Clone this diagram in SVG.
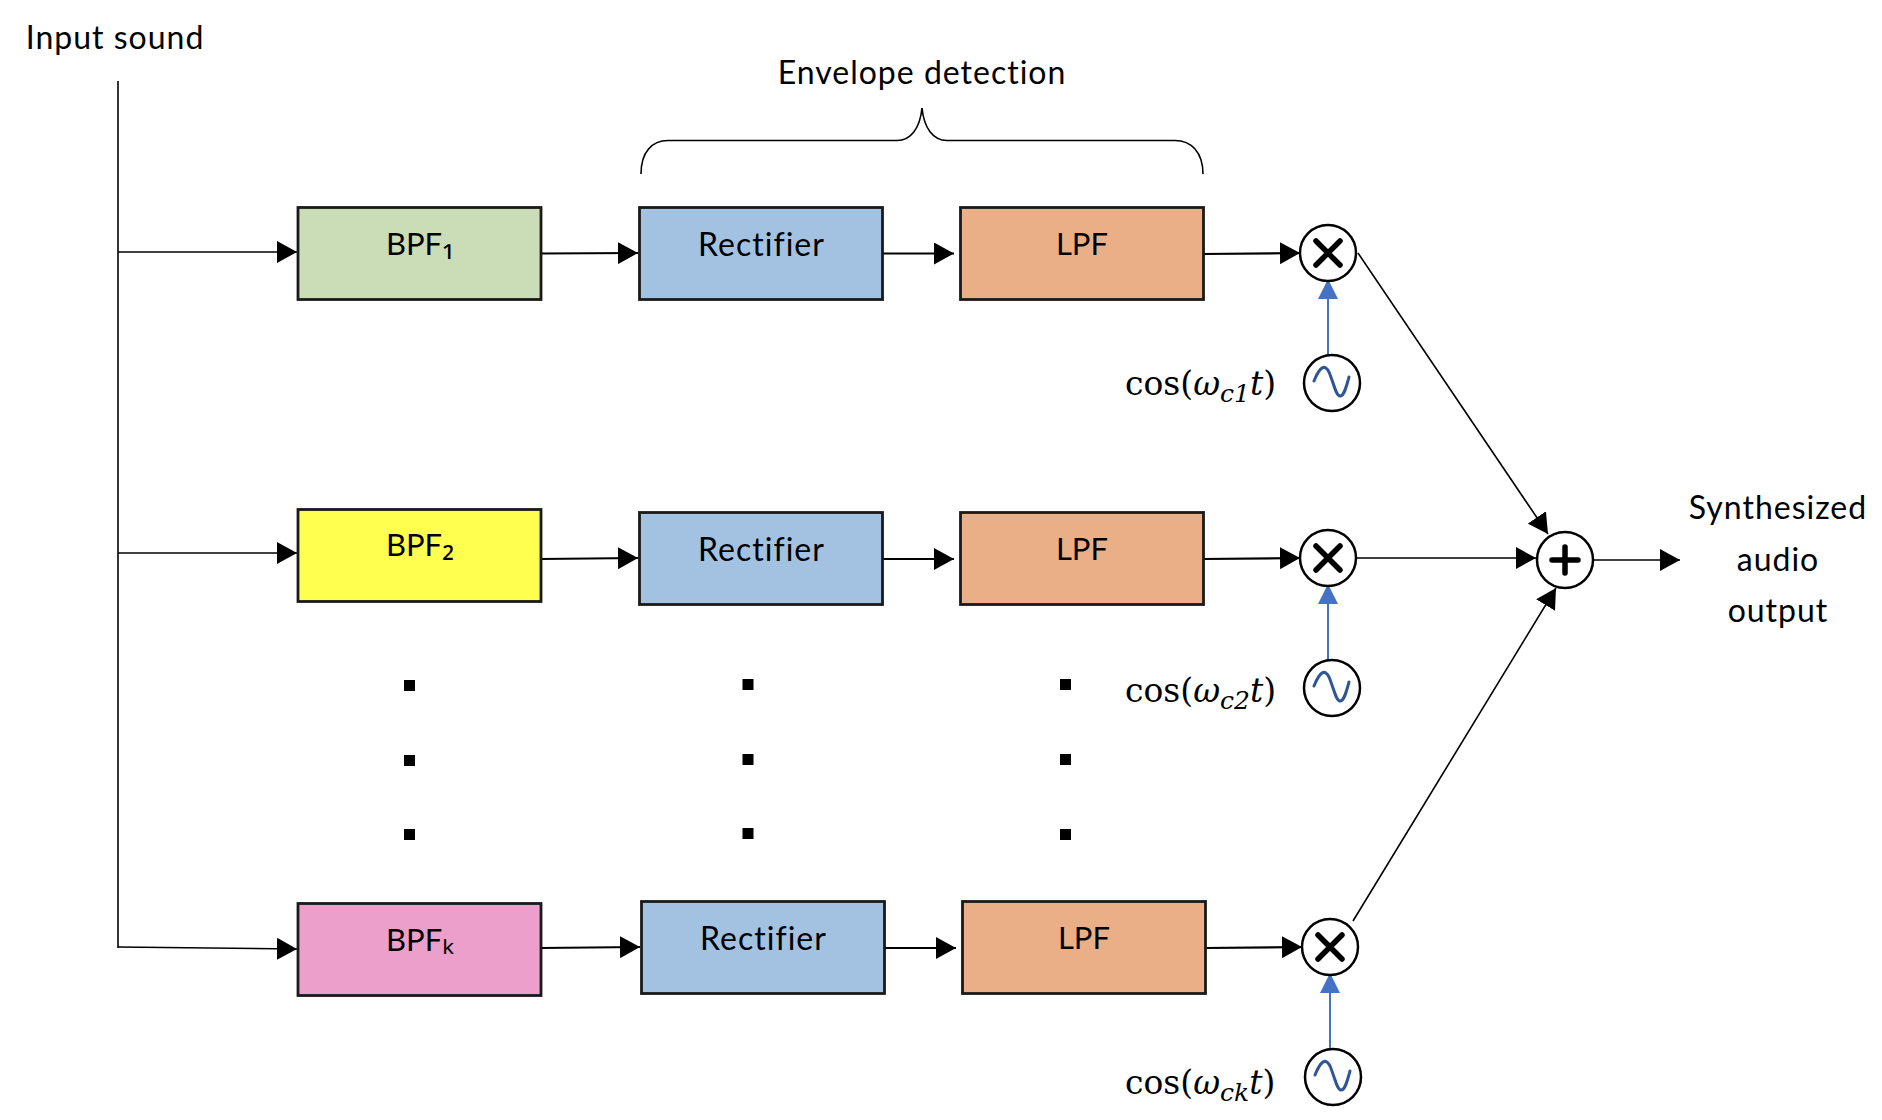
<svg xmlns="http://www.w3.org/2000/svg" width="1882" height="1120" viewBox="0 0 1882 1120">
<style>
text{font-family:"Lato","Noto Sans",sans-serif;font-size:32px;letter-spacing:1px;fill:#000;text-anchor:middle}
text.cap{font-size:31px;letter-spacing:0}
.sub{font-family:"Noto Sans",sans-serif;font-size:34px}
text.math{font-family:"DejaVu Serif","Liberation Serif",serif;font-size:33px;letter-spacing:0;text-anchor:start}
.math .v{font-style:italic}
.math .s{font-style:italic;font-size:25px}
.box{stroke:#1a1a1a;stroke-width:2.8}
.g{fill:#cbddb6}.y{fill:#ffff50}.p{fill:#ec9fcb}.b{fill:#a3c2e2}.o{fill:#ebaf88}
.c{fill:#fff;stroke:#000;stroke-width:2.5}
.sym{fill:none;stroke:#000;stroke-width:5.500;stroke-linecap:round}
.sine{fill:none;stroke:#2f5597;stroke-width:3;stroke-linecap:round;stroke-linejoin:round}
.l{fill:none;stroke:#000;stroke-width:1.6}
.a{marker-end:url(#ah)}
.t{fill:none;stroke:#000;stroke-width:2.2;marker-end:url(#ah)}
.blue{fill:none;stroke:#4472c4;stroke-width:2;marker-end:url(#bh)}
.dot{fill:#000}
</style>
<defs>
<marker id="ah" markerUnits="userSpaceOnUse" markerWidth="20" markerHeight="22" refX="20" refY="11" orient="auto"><path d="M0 0L20 11L0 22Z" fill="#000"/></marker>
<marker id="bh" markerUnits="userSpaceOnUse" markerWidth="20" markerHeight="20" refX="20" refY="10" orient="auto"><path d="M0 0L20 10L0 20Z" fill="#4472c4"/></marker>
</defs>
<g id="connectors">
<path class="l" d="M118 81V948"/>
<path class="l a" d="M118 252H297"/>
<path class="l a" d="M118 553H297"/>
<path class="l a" d="M118 947L297 949"/>
<path class="t" d="M541 253.5L638 253"/>
<path class="t" d="M882 253.5H954"/>
<path class="t" d="M1203 254L1300 253"/>
<path class="t" d="M541 559L638 558"/>
<path class="t" d="M882 559H954"/>
<path class="t" d="M1203 559L1300 558"/>
<path class="t" d="M541 948L640 947"/>
<path class="t" d="M884 948H956"/>
<path class="t" d="M1205 948L1302 947"/>
<path class="blue" d="M1328 356V279"/>
<path class="blue" d="M1328 661V584"/>
<path class="blue" d="M1330 1051V973"/>
<path class="l a" d="M1358 253L1548 534"/>
<path class="l a" d="M1356 558H1536"/>
<path class="l a" d="M1353 921L1556 588"/>
<path class="l a" d="M1593 560H1680"/>
</g>
<g id="brace"><path class="l" d="M641 174C641 152 652 140.500 668 140.500H897C911 140.500 920 128 922 108C924 128 933 140.500 947 140.500H1175C1191 140.500 1203 152 1203 174"/></g>
<g id="bpf1"><rect class="box g" x="298" y="207.500" width="243" height="92"/><text class="cap" x="420" y="255">BPF<tspan class="sub">₁</tspan></text></g>
<g id="rect1"><rect class="box b" x="639.500" y="207.500" width="243" height="92"/><text x="761.500" y="256">Rectifier</text></g>
<g id="lpf1"><rect class="box o" x="960.500" y="207.500" width="243" height="92"/><text class="cap" x="1082" y="255">LPF</text></g>
<g id="bpf2"><rect class="box y" x="298" y="509.500" width="243" height="92"/><text class="cap" x="420" y="556">BPF<tspan class="sub">₂</tspan></text></g>
<g id="rect2"><rect class="box b" x="639.500" y="512.500" width="243" height="92"/><text x="761.500" y="561">Rectifier</text></g>
<g id="lpf2"><rect class="box o" x="960.500" y="512.500" width="243" height="92"/><text class="cap" x="1082" y="560">LPF</text></g>
<g id="bpfk"><rect class="box p" x="298" y="903.500" width="243" height="92"/><text class="cap" x="420" y="951">BPF<tspan class="sub">ₖ</tspan></text></g>
<g id="rectk"><rect class="box b" x="641.500" y="901.500" width="243" height="92"/><text x="763.500" y="950">Rectifier</text></g>
<g id="lpfk"><rect class="box o" x="962.500" y="901.500" width="243" height="92"/><text class="cap" x="1084" y="949">LPF</text></g>
<g id="mul1"><circle class="c" cx="1328" cy="253" r="28"/><path class="sym" d="M1316 241L1340 265M1340 241L1316 265"/></g>
<g id="mul2"><circle class="c" cx="1328" cy="558" r="28"/><path class="sym" d="M1316 546L1340 570M1340 546L1316 570"/></g>
<g id="mulk"><circle class="c" cx="1330" cy="947" r="28"/><path class="sym" d="M1318 935L1342 959M1342 935L1318 959"/></g>
<g id="sum"><circle class="c" cx="1565" cy="560" r="28"/><path class="sym" d="M1565 547V573M1552 560H1578"/></g>
<g id="osc1"><circle class="c" cx="1332" cy="383" r="28"/><path class="sine" d="M1314 381C1320 366 1325 364 1329 372C1334 384 1336 396 1340 396C1344 396 1346 388 1349 377"/></g>
<g id="osc2"><circle class="c" cx="1332" cy="688" r="28"/><path class="sine" d="M1314 686C1320 671 1325 669 1329 677C1334 689 1336 701 1340 701C1344 701 1346 693 1349 682"/></g>
<g id="osck"><circle class="c" cx="1333" cy="1077" r="28"/><path class="sine" d="M1315 1075C1321 1060 1326 1058 1330 1066C1335 1078 1337 1090 1341 1090C1345 1090 1347 1082 1350 1071"/></g>
<g id="dots">
<rect class="dot" x="404" y="680" width="11" height="11"/><rect class="dot" x="404" y="755" width="11" height="11"/><rect class="dot" x="404" y="829" width="11" height="11"/>
<rect class="dot" x="742.500" y="679" width="11" height="11"/><rect class="dot" x="742.500" y="754" width="11" height="11"/><rect class="dot" x="742.500" y="828" width="11" height="11"/>
<rect class="dot" x="1060" y="679" width="11" height="11"/><rect class="dot" x="1060" y="754" width="11" height="11"/><rect class="dot" x="1060" y="829" width="11" height="11"/>
</g>
<g id="labels">
<text x="115" y="49">Input sound</text>
<text x="922" y="84">Envelope detection</text>
<text x="1778" y="519">Synthesized</text>
<text x="1778" y="571">audio</text>
<text x="1778" y="622">output</text>
<text class="math" x="1125" y="395">cos(<tspan class="v">ω</tspan><tspan class="s" dy="7">c1</tspan><tspan class="v" dy="-7">t</tspan>)</text>
<text class="math" x="1125" y="702">cos(<tspan class="v">ω</tspan><tspan class="s" dy="7">c2</tspan><tspan class="v" dy="-7">t</tspan>)</text>
<text class="math" x="1125" y="1094">cos(<tspan class="v">ω</tspan><tspan class="s" dy="7">ck</tspan><tspan class="v" dy="-7">t</tspan>)</text>
</g>
</svg>
